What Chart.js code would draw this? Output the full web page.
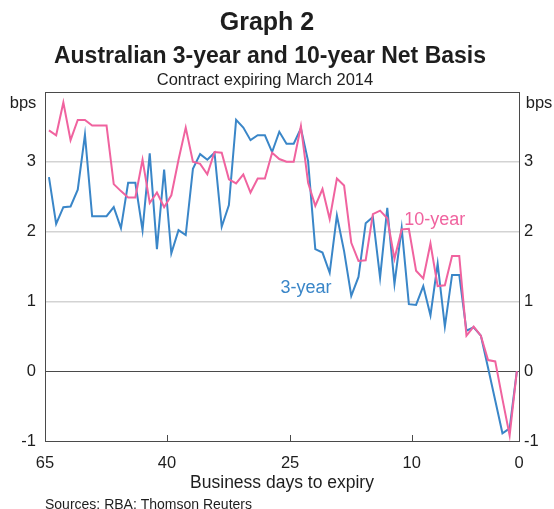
<!DOCTYPE html>
<html>
<head>
<meta charset="utf-8">
<script src="https://cdn.jsdelivr.net/npm/chart.js@4"></script>
<style>
  html, body { margin: 0; padding: 0; background: #fff; }
  #wrap { width: 554px; height: 509px; }
</style>
</head>
<body>
<div id="wrap"><canvas id="graph"></canvas></div>
<script>
// net basis, bps, one value per business day (oldest first)
const threeYear = [2.78, 2.11, 2.35, 2.36, 2.60, 3.39, 2.22, 2.22, 2.22, 2.35, 2.05, 2.70, 2.70, 2.02, 3.12, 1.75,
    2.89, 1.69, 2.02, 1.95, 2.90, 3.11, 3.03, 3.13, 2.07, 2.38, 3.60, 3.49, 3.31, 3.38, 3.38, 3.14, 3.43, 3.26, 3.26,
    3.48, 3.01, 1.75, 1.70, 1.41, 2.23, 1.72, 1.08, 1.35, 2.12, 2.21, 1.34, 2.34, 1.25, 2.05, 0.96, 0.95, 1.22, 0.80,
    1.54, 0.64, 1.38, 1.38, 0.58, 0.63, 0.51, 0.05, -0.42, -0.89, -0.82, 0.00];
const tenYear = [3.45, 3.38, 3.85, 3.31, 3.60, 3.60, 3.52, 3.52, 3.52, 2.68, 2.58, 2.49, 2.49, 3.03, 2.41, 2.56,
    2.35, 2.52, 3.03, 3.49, 3.00, 2.97, 2.82, 3.14, 3.13, 2.75, 2.69, 2.82, 2.56, 2.76, 2.76, 3.13, 3.04, 3.00, 3.00,
    3.51, 2.70, 2.37, 2.61, 2.18, 2.76, 2.66, 1.84, 1.58, 1.59, 2.25, 2.30, 2.19, 1.61, 2.03, 2.04, 1.44, 1.33, 1.83,
    1.22, 1.23, 1.65, 1.65, 0.51, 0.64, 0.51, 0.16, 0.14, -0.40, -0.92, 0.00];
const xTickLabels = ['65', '40', '25', '10', '0'];
const yTicks = [-1, 0, 1, 2, 3, 4];

const FONT = "'Liberation Sans', Arial, Helvetica, sans-serif";
const BLUE = '#3a86c8';
const PINK = '#f0639f';
const TEXT = '#1e1e1e';
const FRAME = '#4a4a4a';

// where the x tick labels sit, in observation index units
const xTickPos = [-0.55, 16.4, 33.5, 50.4, 65.3];

function toPoints(values) {
    return values.map((v, i) => ({x: i, y: v}));
}

const decorations = {
    id: 'decorations',
    afterDraw(chart) {
        const ctx = chart.ctx;
        const {bottom} = chart.chartArea;
        const x = chart.scales.x, y = chart.scales.y;
        ctx.save();
        ctx.fillStyle = TEXT;
        ctx.textAlign = 'center';
        ctx.textBaseline = 'middle';
        ctx.font = 'bold 25px ' + FONT;
        ctx.fillText('Graph 2', 267, 23);
        ctx.font = 'bold 23px ' + FONT;
        ctx.fillText('Australian 3-year and 10-year Net Basis', 270, 57);
        ctx.font = '16.5px ' + FONT;
        ctx.fillText('Contract expiring March 2014', 265, 80);
        ctx.fillText('bps', 23, 103);
        ctx.fillText('bps', 539, 103);
        ctx.textAlign = 'left';
        ctx.font = '14px ' + FONT;
        ctx.fillText('Sources: RBA: Thomson Reuters', 45, 505);

        // series labels
        ctx.textAlign = 'center';
        ctx.font = '18px ' + FONT;
        ctx.fillStyle = BLUE;
        ctx.fillText('3-year', x.getPixelForValue(35.7), y.getPixelForValue(1.19));
        ctx.fillStyle = PINK;
        ctx.fillText('10-year', x.getPixelForValue(53.6), y.getPixelForValue(2.17));

        // inward tick marks on the x axis
        ctx.strokeStyle = FRAME;
        ctx.lineWidth = 1;
        xTickPos.slice(1, -1).forEach(v => {
            const px = Math.round(x.getPixelForValue(v)) + 0.5;
            ctx.beginPath();
            ctx.moveTo(px, bottom);
            ctx.lineTo(px, bottom - 6);
            ctx.stroke();
        });
        ctx.restore();
    }
};

const yTickOptions = {
    color: TEXT,
    font: {family: FONT, size: 16.5},
    callback: v => (v === 4 ? '' : v),
};

new Chart(document.getElementById('graph'), {
    type: 'line',
    data: {
        datasets: [{
            label: '3-year',
            data: toPoints(threeYear),
            borderColor: BLUE,
            borderWidth: 2,
            pointRadius: 0,
            tension: 0,
            order: 2,
        }, {
            label: '10-year',
            data: toPoints(tenYear),
            borderColor: PINK,
            borderWidth: 2,
            pointRadius: 0,
            tension: 0,
            order: 1,
        }],
    },
    options: {
        responsive: true,
        maintainAspectRatio: false,
        animation: false,
        layout: {padding: {top: 92, bottom: 15, left: 0, right: 0}},
        plugins: {
            legend: {display: false},
            tooltip: {enabled: false},
        },
        scales: {
            x: {
                type: 'linear',
                min: xTickPos[0],
                max: xTickPos[xTickPos.length - 1],
                grid: {display: false, drawTicks: false},
                border: {display: true, color: FRAME, width: 1},
                afterBuildTicks: s => { s.ticks = xTickPos.map(v => ({value: v})); },
                afterFit: s => { s.height = 53; },
                ticks: {
                    color: TEXT,
                    font: {family: FONT, size: 16.5},
                    padding: 13,
                    maxRotation: 0,
                    autoSkip: false,
                    callback: (v, i) => xTickLabels[i],
                },
                title: {
                    display: true,
                    text: 'Business days to expiry',
                    color: TEXT,
                    font: {family: FONT, size: 17.5},
                    padding: {top: 0, bottom: 0},
                },
            },
            y: {
                position: 'left',
                min: -1,
                max: 4,
                afterBuildTicks: s => { s.ticks = yTicks.map(v => ({value: v})); },
                afterFit: s => { s.width = 45; },
                grid: {
                    drawTicks: false,
                    color: c => (c.tick.value === 0 || c.tick.value === 4 ? FRAME : '#d3d3d3'),
                    lineWidth: c => (c.tick.value === 1 || c.tick.value === 2 || c.tick.value === 3 ? 1.5 : 1),
                },
                border: {display: true, color: FRAME, width: 1},
                ticks: Object.assign({padding: 9}, yTickOptions),
            },
            y2: {
                position: 'right',
                min: -1,
                max: 4,
                afterBuildTicks: s => { s.ticks = yTicks.map(v => ({value: v})); },
                afterFit: s => { s.width = 35; },
                grid: {display: false, drawTicks: false},
                border: {display: true, color: FRAME, width: 1},
                ticks: Object.assign({padding: 5}, yTickOptions),
            },
        },
    },
    plugins: [decorations],
});
</script>
</body>
</html>
